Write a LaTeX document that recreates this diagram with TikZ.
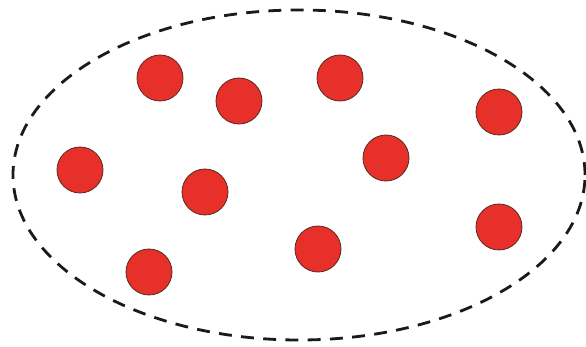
\documentclass[tikz,border=0pt]{standalone}
\usepackage{xcolor}
\usepackage{tikz}
\usetikzlibrary{positioning}
\definecolor{ballRed}{HTML}{E8302A}
\definecolor{ballEdge}{HTML}{5A2A22}
\definecolor{ink}{HTML}{1A1A1A}

\begin{document}
\begin{tikzpicture}[x=0.03cm,y=-0.03cm,
  ball/.style={circle,fill=ballRed,draw=ballEdge,line width=0.7pt,minimum size=1.38cm,inner sep=0pt},
  rim/.style={draw=ink,line width=2.4pt,dash pattern=on 11pt off 8pt}]
\useasboundingbox (0,0) rectangle (586,347);
% the set : dashed boundary
\draw[rim] (299,175) ellipse [x radius=8.58cm,y radius=4.95cm];
% the elements
\node[ball] (b1)  at (160,78)  {};
\node[ball] (b2)  at (239,101) {};
\node[ball] (b3)  at (340,78)  {};
\node[ball] (b4)  at (499,112) {};
\node[ball] (b5)  at (80,170)  {};
\node[ball] (b6)  at (205,192) {};
\node[ball] (b7)  at (386,158) {};
\node[ball] (b8)  at (499,227) {};
\node[ball] (b9)  at (149,272) {};
\node[ball] (b10) at (318,249) {};
\end{tikzpicture}
\end{document}
